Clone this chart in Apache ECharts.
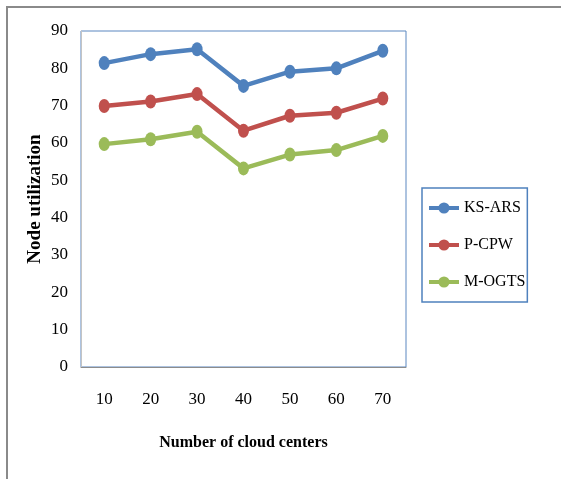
<!DOCTYPE html>
<html>
<head>
<meta charset="utf-8">
<script src="https://cdn.jsdelivr.net/npm/echarts@6/dist/echarts.min.js"></script>
<style>
  html, body { margin: 0; padding: 0; background: #fff; }
  #chart { width: 561px; height: 479px; }
</style>
</head>
<body>
<div id="chart"></div>
<script>
const centers = ['10', '20', '30', '40', '50', '60', '70'];
const ksArs = [81.4, 83.8, 85.1, 75.3, 79.1, 80.0, 84.7];
const pCpw = [69.9, 71.1, 73.1, 63.3, 67.3, 68.1, 71.9];
const mOgts = [59.7, 61.0, 63.0, 53.2, 56.9, 58.1, 61.9];

const serif = '"Liberation Serif", "Times New Roman", serif';

function line(name, data, color) {
  return {
    name: name,
    type: 'line',
    data: data,
    symbol: 'circle',
    symbolSize: [11, 14],
    lineStyle: { width: 4.5, color: color },
    itemStyle: { color: color },
    emphasis: { disabled: true }
  };
}

const chart = echarts.init(document.getElementById('chart'));
chart.setOption({
  animation: false,
  backgroundColor: '#fff',
  // outer frame of the figure, only left and top edges are visible
  graphic: [{
    type: 'rect',
    shape: { x: 7, y: 7, width: 700, height: 600 },
    style: { fill: 'none', stroke: '#8a8a8a', lineWidth: 2 }
  }],
  grid: {
    left: 81,
    top: 31,
    right: 155,
    bottom: 112,
    show: true,
    borderColor: '#5b87c0',
    borderWidth: 1
  },
  legend: {
    orient: 'vertical',
    left: 422,
    top: 188,
    padding: [12, 2, 12, 5],
    itemGap: 21,
    itemWidth: 30,
    itemHeight: 14,
    borderColor: '#4F81BD',
    borderWidth: 1.5,
    lineStyle: { width: 4 },
    textStyle: { fontFamily: serif, fontSize: 16, color: '#000' },
    data: ['KS-ARS', 'P-CPW', 'M-OGTS']
  },
  xAxis: {
    type: 'category',
    data: centers,
    boundaryGap: true,
    name: 'Number of cloud centers',
    nameLocation: 'middle',
    nameGap: 68,
    nameTextStyle: { fontFamily: serif, fontSize: 16, fontWeight: 'bold', color: '#000' },
    axisTick: { show: false },
    axisLine: { lineStyle: { color: '#8c8c8c', width: 1 } },
    axisLabel: { margin: 24, fontFamily: serif, fontSize: 17, color: '#000' }
  },
  yAxis: {
    type: 'value',
    min: 0,
    max: 90,
    interval: 10,
    name: 'Node utilization',
    nameLocation: 'middle',
    nameGap: 36,
    nameMoveOverlap: false,
    nameTextStyle: { fontFamily: serif, fontSize: 19, fontWeight: 'bold', color: '#000' },
    splitLine: { show: false },
    axisTick: { show: false },
    axisLine: { show: true, lineStyle: { color: '#c4c4c4', width: 1 } },
    axisLabel: { margin: 13, fontFamily: serif, fontSize: 17, color: '#000' }
  },
  series: [
    line('KS-ARS', ksArs, '#4F81BD'),
    line('P-CPW', pCpw, '#C0504D'),
    line('M-OGTS', mOgts, '#9BBB59')
  ]
});
</script>
</body>
</html>
